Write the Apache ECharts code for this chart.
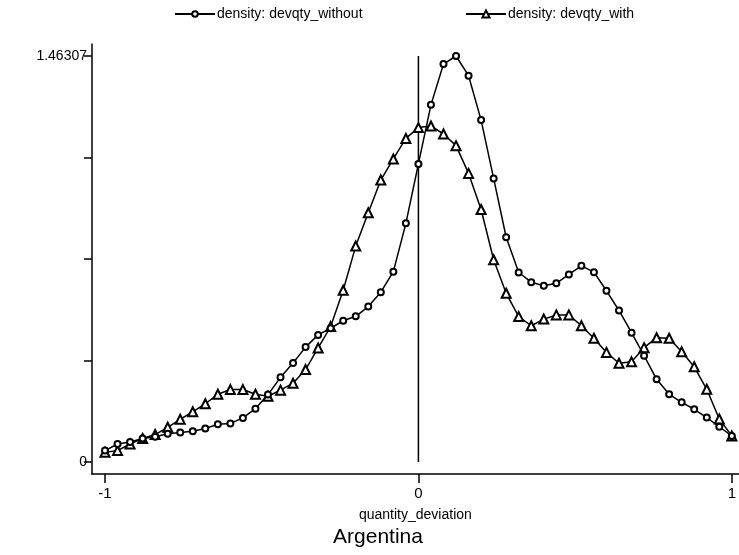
<!DOCTYPE html>
<html>
<head>
<meta charset="utf-8">
<script src="https://cdn.jsdelivr.net/npm/echarts@6/dist/echarts.min.js"></script>
<style>
html,body{margin:0;padding:0;background:#fff;}
#chart{width:739px;height:555px;}
</style>
</head>
<body>
<div id="chart"></div>
<script>
// evaluation grid: -1 to 1 step 0.04
const xGrid = [-1,-0.96,-0.92,-0.88,-0.84,-0.8,-0.76,-0.72,-0.68,-0.64,-0.6,-0.56,-0.52,-0.48,-0.44,-0.4,-0.36,-0.32,-0.28,-0.24,-0.2,-0.16,-0.12,-0.08,-0.04,0,0.04,0.08,0.12,0.16,0.2,0.24,0.28,0.32,0.36,0.4,0.44,0.48,0.52,0.56,0.6,0.64,0.68,0.72,0.76,0.8,0.84,0.88,0.92,0.96,1];
const densityWithout = [0.041,0.065,0.072,0.085,0.091,0.102,0.106,0.111,0.121,0.136,0.139,0.159,0.192,0.243,0.305,0.357,0.414,0.458,0.482,0.509,0.525,0.560,0.612,0.686,0.860,1.074,1.287,1.434,1.46307,1.392,1.232,1.022,0.810,0.683,0.648,0.635,0.644,0.676,0.707,0.684,0.617,0.546,0.466,0.383,0.298,0.244,0.215,0.190,0.160,0.127,0.094];
const densityWith = [0.035,0.041,0.065,0.085,0.099,0.125,0.154,0.181,0.210,0.244,0.261,0.261,0.244,0.237,0.259,0.284,0.333,0.411,0.488,0.619,0.778,0.898,1.016,1.092,1.166,1.205,1.211,1.182,1.140,1.040,0.910,0.729,0.608,0.524,0.491,0.515,0.530,0.530,0.491,0.446,0.395,0.356,0.361,0.412,0.448,0.446,0.397,0.343,0.262,0.155,0.094];
const seriesNames = ['density: devqty_without','density: devqty_with'];
const xTickValues = [-1,0,1];
const yMaxLabel = 1.46307;
const yTickValues = [0, yMaxLabel*0.25, yMaxLabel*0.5, yMaxLabel*0.75, yMaxLabel];
const yLabelValues = [0, yMaxLabel];
const yLabelTexts = ['0','1.46307'];
const refLineX = [0, 0];
const refLineY = [0, yMaxLabel];
const xTitle = 'quantity_deviation';
const noteText = 'Argentina';

const FONT = "'Liberation Sans Narrow','Liberation Sans',Arial,sans-serif";
const chart = echarts.init(document.getElementById('chart'), null, {renderer:'canvas'});
const pair = (xs, ys) => xs.map((x,i)=>[x, ys[i]]);

chart.setOption({
  animation:false,
  backgroundColor:'#fff',
  textStyle:{fontFamily:FONT},
  grid:{left:92, right:0, top:44, bottom:81, containLabel:false},
  legend:[
    {data:[seriesNames[0]], left:169, top:2, itemWidth:40, itemHeight:7, itemGap:0,
     textStyle:{fontFamily:FONT, fontSize:14, color:'#000', padding:[0,0,0,-3]}},
    {data:[seriesNames[1]], left:460, top:2, itemWidth:40, itemHeight:9, itemGap:0,
     textStyle:{fontFamily:FONT, fontSize:14, color:'#000', padding:[0,0,0,-3]}}
  ],
  xAxis:{
    type:'value', min:-1.0415, max:1.0223,
    splitLine:{show:false},
    axisLine:{show:true, onZero:false, lineStyle:{color:'#000', width:1.5}},
    axisTick:{show:true, length:9, customValues:xTickValues, lineStyle:{color:'#000', width:1.5}},
    axisLabel:{customValues:xTickValues, color:'#000', fontSize:15, fontFamily:FONT, margin:12},
    name:xTitle, nameLocation:'middle', nameGap:34,
    nameTextStyle:{color:'#000', fontSize:14, fontFamily:FONT}
  },
  yAxis:{
    type:'value', min:-0.04324, max:1.50631,
    splitLine:{show:false},
    axisLine:{show:true, onZero:false, lineStyle:{color:'#000', width:1.5}},
    axisTick:{show:true, length:8, customValues:yTickValues, lineStyle:{color:'#000', width:1.5}},
    axisLabel:{customValues:yLabelValues, color:'#000', fontSize:14, fontFamily:FONT, margin:5,
      formatter:(v)=>{ const i = yLabelValues.findIndex(t=>Math.abs(t-v)<1e-6); return i>=0 ? yLabelTexts[i] : ''; }}
  },
  graphic:[
    {type:'text', x:378, y:537, style:{text:noteText, font:"21px 'Liberation Sans Narrow','Liberation Sans',Arial", fill:'#000', align:'center', verticalAlign:'middle'}}
  ],
  series:[
    {type:'line', name:'ref', data:pair(refLineX, refLineY), symbol:'none', silent:true,
     lineStyle:{color:'#000', width:1.5}, z:1},
    {type:'line', name:seriesNames[0], data:pair(xGrid, densityWithout),
     symbol:'emptyCircle', symbolSize:6, showAllSymbol:true,
     itemStyle:{color:'#000', borderColor:'#000', borderWidth:1.3},
     lineStyle:{color:'#000', width:1.5}, z:3},
    {type:'line', name:seriesNames[1], data:pair(xGrid, densityWith),
     symbol:'emptyTriangle', symbolSize:9, showAllSymbol:true,
     itemStyle:{color:'#000', borderColor:'#000', borderWidth:1.3},
     lineStyle:{color:'#000', width:1.5}, z:2}
  ]
});
</script>
</body>
</html>
